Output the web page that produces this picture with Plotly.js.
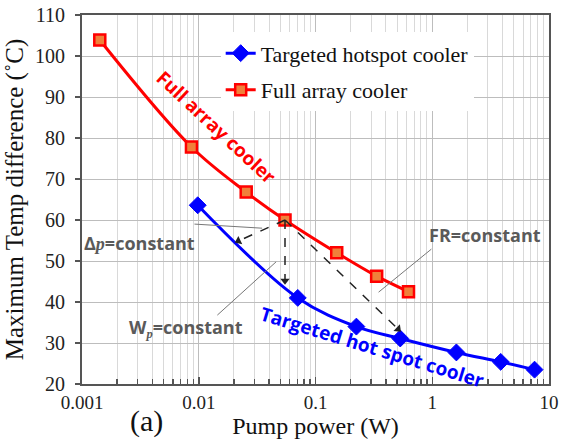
<!DOCTYPE html>
<html>
<head>
<meta charset="utf-8">
<script src="https://cdn.plot.ly/plotly-3.0.1.min.js"></script>
<style>html,body{margin:0;padding:0;background:#fff;}#chart{width:561px;height:441px;}</style>
</head>
<body>
<div id="chart"></div>
<script>
// Data
const seriesNames = ['Targeted hotspot cooler', 'Full array cooler'];
const hotPower = [0.0098, 0.0705, 0.224, 0.532, 1.61, 3.86, 7.52];
const hotTemp  = [63.6, 41.0, 34.0, 31.1, 27.7, 25.4, 23.5];
const fullPower = [0.00142, 0.00866, 0.0255, 0.0548, 0.152, 0.334, 0.626];
const fullTemp  = [103.9, 77.8, 66.8, 60.0, 52.0, 46.3, 42.5];
const xTickVals = [0.001, 0.01, 0.1, 1, 10];
const xTickText = ['0.001', '0.01', '0.1', '1', '10'];
const yTickVals = [20, 30, 40, 50, 60, 70, 80, 90, 100, 110];

// Dashed arrows start at the full-array point (index 3) and end here
const arrowEndPower = [0.0219, 0.0548, 0.51];
const arrowEndTemp  = [54.9, 45.2, 33.4];
const arrowAngle    = [245, 180, 134];
// thin grey leader lines for the labels
const leaderX0 = [0.00919, 0.01443, 0.347];
const leaderY0 = [59.0, 36.8, 42.4];
const leaderX1 = [0.0349, 0.0460, 0.983];
const leaderY1 = [58.0, 49.8, 52.9];

const serif = 'Liberation Serif';
const sans = 'Open Sans';

const traces = [
  {
    x: hotPower, y: hotTemp, name: seriesNames[0], legendgroup: 'a',
    mode: 'lines+markers', type: 'scatter',
    line: {color: '#0000ff', width: 3, shape: 'spline', smoothing: 1},
    marker: {symbol: 'diamond', size: 13, color: '#0000ff', line: {color: '#0000ff', width: 1}}
  },
  {
    x: fullPower, y: fullTemp, name: seriesNames[1], legendgroup: 'b',
    mode: 'lines+markers', type: 'scatter',
    line: {color: '#ff0000', width: 3, shape: 'spline', smoothing: 1},
    marker: {symbol: 'square', size: 11, color: '#f0803a', line: {color: '#ff0000', width: 2.5}}
  },
  {
    x: arrowEndPower, y: arrowEndTemp, mode: 'markers', type: 'scatter',
    showlegend: false, hoverinfo: 'skip',
    marker: {symbol: 'triangle-up', size: 8, color: '#222', angle: arrowAngle, line: {width: 0}}
  }
];

const shapes = [];
for (let i = 0; i < arrowEndPower.length; i++) {
  shapes.push({type: 'line', xref: 'x', yref: 'y', layer: 'above',
    x0: fullPower[3], y0: fullTemp[3], x1: arrowEndPower[i], y1: arrowEndTemp[i],
    line: {color: '#222', width: 1.5, dash: 'dash'}});
}
for (let i = 0; i < leaderX0.length; i++) {
  shapes.push({type: 'line', xref: 'x', yref: 'y', layer: 'above',
    x0: leaderX0[i], y0: leaderY0[i], x1: leaderX1[i], y1: leaderY1[i],
    line: {color: '#777', width: 1}});
}

const grey = '#5a5a5a';
const ann = (x, y, text, font, angle) => ({xref: 'paper', yref: 'paper', x: x, y: y, text: text,
  showarrow: false, xanchor: 'center', yanchor: 'middle', textangle: angle || 0, font: font});
const annotations = [
  ann(0.287, 0.696, '<b>Full array cooler</b>', {family: sans, size: 19, color: '#ff0000'}, 43),
  ann(0.621, 0.100, '<b>Targeted hot spot cooler</b>', {family: sans, size: 19, color: '#0000ff'}, 17),
  ann(0.124, 0.382, '<b>Δ</b><span style="font-family:Liberation Serif;font-style:italic;font-weight:bold">p</span><b>=constant</b>',
      {family: sans, size: 18, color: grey}),
  ann(0.223, 0.152, '<b>W</b><sub><span style="font-family:Liberation Serif;font-style:italic;font-weight:bold">p</span></sub><b>=constant</b>',
      {family: sans, size: 18, color: grey}),
  ann(0.864, 0.404, '<b>FR=constant</b>', {family: sans, size: 18, color: grey}),
  ann(0.139, -0.100, '(a)', {family: serif, size: 30, color: '#111'})
];

const layout = {
  width: 561, height: 441,
  margin: {l: 82, r: 12, t: 15, b: 57},
  paper_bgcolor: '#fff', plot_bgcolor: '#fff',
  font: {family: serif, color: '#111'},
  showlegend: true,
  legend: {x: 0.297, y: 0.953, xanchor: 'left', yanchor: 'top', bgcolor: '#fff', borderwidth: 0,
    font: {family: serif, size: 22, color: '#111'}, tracegroupgap: 5},
  xaxis: {
    type: 'log', range: [-3, 1], tickvals: xTickVals, ticktext: xTickText,
    showgrid: true, gridcolor: '#bdbdbd', gridwidth: 1,
    ticks: 'inside', ticklen: 7, tickcolor: '#555', tickwidth: 1.5, ticklabelstandoff: 0,
    minor: {dtick: 'D1', showgrid: true, gridcolor: '#d9d9d9', gridwidth: 1, ticks: 'inside', ticklen: 5, tickcolor: '#555'},
    showline: true, linecolor: '#555', linewidth: 2, mirror: true, zeroline: false,
    tickfont: {family: serif, size: 19, color: '#222'},
    title: {text: 'Pump power (W)', font: {family: serif, size: 24, color: '#111'}, standoff: 0}
  },
  yaxis: {
    range: [20, 110], tickvals: yTickVals,
    showgrid: true, gridcolor: '#bdbdbd', gridwidth: 1,
    ticks: 'outside', ticklen: 5, tickcolor: '#555', tickwidth: 1.5, ticklabelstandoff: 6,
    showline: true, linecolor: '#555', linewidth: 2, mirror: true, zeroline: false,
    tickfont: {family: serif, size: 20, color: '#222'},
    title: {text: 'Maximum Temp difference (˚C)', font: {family: serif, size: 25, color: '#111'}, standoff: 4}
  },
  shapes: shapes,
  annotations: annotations
};

Plotly.newPlot('chart', traces, layout, {displayModeBar: false, staticPlot: true});
</script>
</body>
</html>
